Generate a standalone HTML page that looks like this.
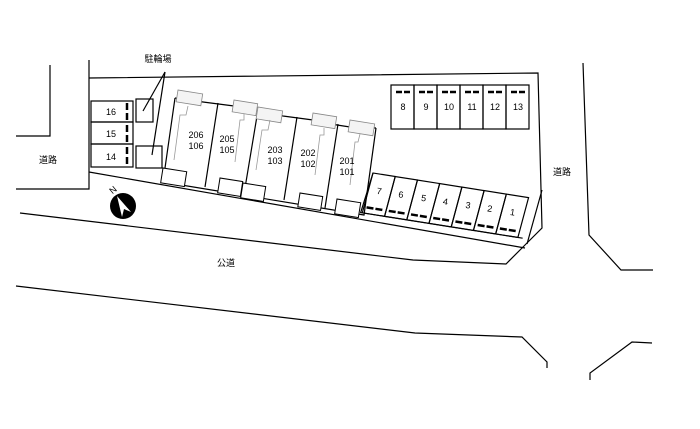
<!DOCTYPE html>
<html><head><meta charset="utf-8"><style>
html,body{margin:0;padding:0;background:#fff;}
svg{display:block}
text{font-family:"Liberation Sans","Noto Sans CJK JP",sans-serif;font-size:9px;fill:#000;text-anchor:middle}
</style></head><body>
<svg width="700" height="429" viewBox="0 0 700 429" xmlns="http://www.w3.org/2000/svg" fill="none" stroke="#000" stroke-width="1.2">
<!-- left road -->
<polyline points="50,65 50,136 16,136"/>
<polyline points="89,60 89,189 16,189"/>
<text x="48" y="163" stroke="none">道路</text>
<!-- site -->
<polyline points="89,78 538,73 542,228 525,245 506,264 413,260 20,213"/>
<line x1="89" y1="172" x2="525" y2="248"/>
<line x1="527" y1="244" x2="542" y2="190"/>
<!-- lower road line -->
<polyline points="16,286 415,333 522,337 547,362 547,368"/>
<!-- right road -->
<polyline points="583,63 589,235 621,270 653,270"/>
<polyline points="590,380 590,373 632,342 652,343"/>
<text x="562" y="175" stroke="none">道路</text>
<text x="226" y="266" stroke="none">公道</text>
<!-- parking 14-16 -->
<rect x="91" y="101" width="42" height="21"/>
<rect x="91" y="122" width="42" height="22"/>
<rect x="91" y="144" width="42" height="23"/>
<text x="111" y="115" stroke="none">16</text>
<text x="111" y="137" stroke="none">15</text>
<text x="111" y="160" stroke="none">14</text>
<g stroke-width="2.5">
<line x1="127" y1="103" x2="127" y2="110"/><line x1="127" y1="113" x2="127" y2="120"/>
<line x1="127" y1="125" x2="127" y2="132"/><line x1="127" y1="135" x2="127" y2="142"/>
<line x1="127" y1="147" x2="127" y2="154"/><line x1="127" y1="157" x2="127" y2="164"/>
</g>
<!-- bike -->
<rect x="136" y="99" width="17" height="23"/>
<rect x="136" y="146" width="26" height="22"/>
<line x1="165" y1="72" x2="143" y2="111"/>
<line x1="165" y1="72" x2="152" y2="155"/>
<text x="158" y="62" stroke="none">駐輪場</text>
<!-- compass -->
<circle cx="123" cy="206" r="13" fill="#000" stroke="none"/>
<polygon points="117,196 131,212 124,209 122,217" fill="#fff" stroke="none"/>
<text x="113" y="193" stroke="none" transform="rotate(-40 113 190)">N</text>
<!-- building -->
<polyline points="175,98 163,182 364,215 376,128"/>
<polyline points="175,98 203,102 234,106 258,111 283,116 313,120 337,125 350,127 376,128"/>
<line x1="218" y1="103" x2="205" y2="187"/>
<line x1="258" y1="110" x2="244" y2="194"/>
<line x1="297" y1="117" x2="284" y2="200"/>
<line x1="338" y1="124" x2="325" y2="208"/>
<g fill="#fff" stroke-width="1">
<rect x="163" y="168" width="24" height="15" transform="rotate(9 163 168)"/>
<rect x="220" y="178" width="23" height="15" transform="rotate(9 220 178)"/>
<rect x="243" y="183" width="23" height="15" transform="rotate(9 243 183)"/>
<rect x="300" y="193" width="23" height="14" transform="rotate(9 300 193)"/>
<rect x="337" y="199" width="24" height="15" transform="rotate(9 337 199)"/>
</g>
<g stroke="#888" stroke-width="0.8" fill="#f4f4f4">
<rect x="178" y="90" width="25" height="12" transform="rotate(9 178 90)"/>
<rect x="234" y="100" width="24" height="12" transform="rotate(9 234 100)"/>
<rect x="258" y="107" width="25" height="12" transform="rotate(9 258 107)"/>
<rect x="313" y="113" width="24" height="12" transform="rotate(9 313 113)"/>
<rect x="350" y="120" width="25" height="12" transform="rotate(9 350 120)"/>
</g>
<g stroke="#999" stroke-width="0.8">
<polyline points="188,106 186,115 180,115 174,160"/>
<polyline points="244,114 244,120 240,120 235,162"/>
<polyline points="270,120 268,130 262,130 256,170"/>
<polyline points="324,128 324,135 320,135 315,175"/>
<polyline points="360,134 358,142 355,142 350,185"/>
</g>
<g stroke="none">
<text x="196" y="138">206</text><text x="196" y="149">106</text>
<text x="227" y="142">205</text><text x="227" y="153">105</text>
<text x="275" y="153">203</text><text x="275" y="164">103</text>
<text x="308" y="156">202</text><text x="308" y="167">102</text>
<text x="347" y="164">201</text><text x="347" y="175">101</text>
</g>
<!-- parking 8-13 -->
<g>
<rect x="391" y="85" width="23" height="44"/><rect x="414" y="85" width="23" height="44"/>
<rect x="437" y="85" width="23" height="44"/><rect x="460" y="85" width="23" height="44"/>
<rect x="483" y="85" width="23" height="44"/><rect x="506" y="85" width="23" height="44"/>
</g>
<g stroke-width="2.5">
<line x1="396" y1="92" x2="402" y2="92"/><line x1="404" y1="92" x2="410" y2="92"/>
<line x1="419" y1="92" x2="425" y2="92"/><line x1="427" y1="92" x2="433" y2="92"/>
<line x1="442" y1="92" x2="448" y2="92"/><line x1="450" y1="92" x2="456" y2="92"/>
<line x1="465" y1="92" x2="471" y2="92"/><line x1="473" y1="92" x2="479" y2="92"/>
<line x1="488" y1="92" x2="494" y2="92"/><line x1="496" y1="92" x2="502" y2="92"/>
<line x1="511" y1="92" x2="517" y2="92"/><line x1="519" y1="92" x2="525" y2="92"/>
</g>
<g stroke="none">
<text x="403" y="110">8</text><text x="426" y="110">9</text><text x="449" y="110">10</text>
<text x="472" y="110">11</text><text x="495" y="110">12</text><text x="518" y="110">13</text>
</g>
<!-- parking 1-7 -->
<g transform="translate(373,173) rotate(9)">
<polyline points="0,0 -6,41 158,41"/>
<g>
<rect x="0" y="0" width="22.5" height="41" transform="skewX(-6)"/>
<rect x="22.5" y="0" width="22.5" height="41" transform="skewX(-6)"/>
<rect x="45" y="0" width="22.5" height="41" transform="skewX(-6)"/>
<rect x="67.5" y="0" width="22.5" height="41" transform="skewX(-6)"/>
<rect x="90" y="0" width="22.5" height="41" transform="skewX(-6)"/>
<rect x="112.5" y="0" width="22.5" height="41" transform="skewX(-6)"/>
<rect x="135" y="0" width="22.5" height="41" transform="skewX(-6)"/>
</g>
<g stroke-width="2.5">
<line x1="-1" y1="35" x2="6" y2="35"/><line x1="8" y1="35" x2="15" y2="35"/>
<line x1="21.5" y1="35" x2="28.5" y2="35"/><line x1="30.5" y1="35" x2="37.5" y2="35"/>
<line x1="44" y1="35" x2="51" y2="35"/><line x1="53" y1="35" x2="60" y2="35"/>
<line x1="66.5" y1="35" x2="73.5" y2="35"/><line x1="75.5" y1="35" x2="82.5" y2="35"/>
<line x1="89" y1="35" x2="96" y2="35"/><line x1="98" y1="35" x2="105" y2="35"/>
<line x1="111.5" y1="35" x2="118.5" y2="35"/><line x1="120.5" y1="35" x2="127.5" y2="35"/>
<line x1="134" y1="35" x2="141" y2="35"/><line x1="143" y1="35" x2="150" y2="35"/>
</g>
<g stroke="none">
<text x="9" y="20">7</text><text x="31" y="20">6</text><text x="54" y="20">5</text>
<text x="76" y="20">4</text><text x="99" y="20">3</text><text x="121" y="20">2</text><text x="144" y="20">1</text>
</g>
</g>
</svg>
</body></html>
